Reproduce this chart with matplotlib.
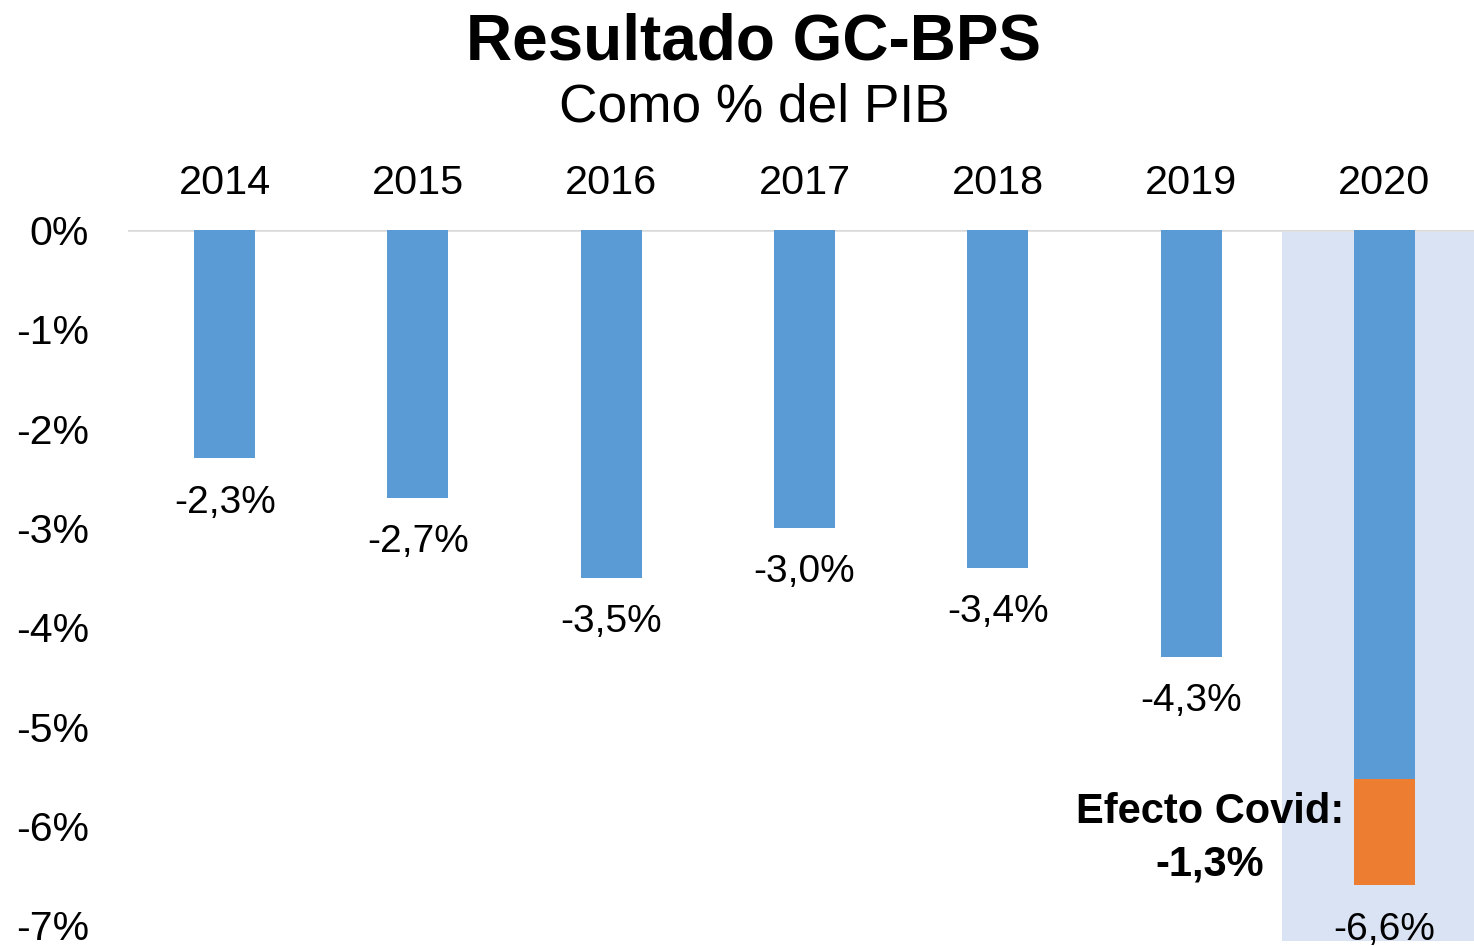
import matplotlib
matplotlib.use("Agg")
import matplotlib.pyplot as plt

plt.rcParams['font.family'] = ['Liberation Sans', 'DejaVu Sans']

years = ["2014", "2015", "2016", "2017", "2018", "2019", "2020"]
base_values = [-2.3, -2.7, -3.5, -3.0, -3.4, -4.3, -5.53]
covid_values = [0, 0, 0, 0, 0, 0, -1.07]
total_labels = ["-2,3%", "-2,7%", "-3,5%", "-3,0%", "-3,4%", "-4,3%", "-6,6%"]
covid_label = "Efecto Covid:"
covid_value_label = "-1,3%"
yticks = [0, -1, -2, -3, -4, -5, -6, -7]
ytick_labels = ["0%", "-1%", "-2%", "-3%", "-4%", "-5%", "-6%", "-7%"]

BLUE = "#5B9BD5"
ORANGE = "#ED7D31"
SHADE = "#DAE3F3"

W, H = 1474, 947
fig = plt.figure(figsize=(W / 100, H / 100), dpi=100)
ax = fig.add_axes([128 / W, 1 - 941 / H, 1 - 128 / W, (941 - 230) / H])

x = list(range(len(years)))
ax.set_xlim(-0.5, -0.5 + 1346 / 193.3)
ax.set_ylim(-7.16, 0)

# highlight of last year
ax.axvspan(5.47, 7, ymin=0, ymax=1 - 0.02 / 7.16, color=SHADE, zorder=0, lw=0)
ax.axhline(0, color="#D9D9D9", lw=1.8, zorder=1)

ax.bar(x, base_values, width=0.316, color=BLUE, zorder=2)
ax.bar(x, covid_values, width=0.316, bottom=base_values, color=ORANGE, zorder=2)

for i, yr in enumerate(years):
    ax.text(i, 0.3626, yr, ha="center", va="baseline", fontsize=29.8, clip_on=False)
    total = base_values[i] + covid_values[i]
    ax.text(i, total - 0.545, total_labels[i], ha="center", va="baseline",
            fontsize=28, clip_on=False)

ax.text(6 - 0.903, -5.97, covid_label, ha="center", va="baseline",
        fontsize=30, fontweight="bold")
ax.text(6 - 0.903, -6.50, covid_value_label, ha="center", va="baseline",
        fontsize=30, fontweight="bold")

ax.set_yticks(yticks)
ax.set_yticklabels(ytick_labels, fontsize=29.5)
ax.tick_params(axis="y", length=0, pad=28)
ax.set_xticks([])
for s in ax.spines.values():
    s.set_visible(False)

fig.text(754 / W, 1 - 60 / H, "Resultado GC-BPS", ha="center", va="baseline",
         fontsize=46, fontweight="bold")
fig.text(754 / W, 1 - 122 / H, "Como % del PIB", ha="center", va="baseline",
         fontsize=38.3)

fig.savefig("out.png", dpi=100)
